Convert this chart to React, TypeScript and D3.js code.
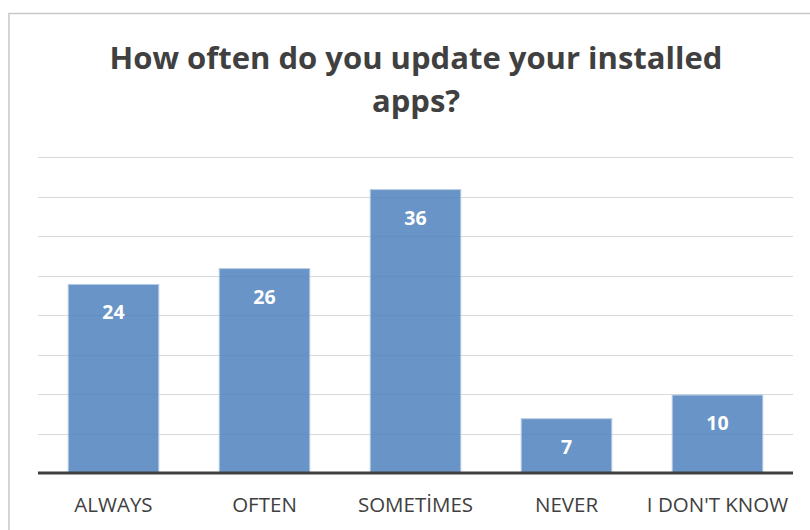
import React from "react";
import * as d3 from "d3";

const categories = ["ALWAYS", "OFTEN", "SOMETİMES", "NEVER", "I DON'T KNOW"];
const values = [24, 26, 36, 7, 10];
const yTicks = [0, 5, 10, 15, 20, 25, 30, 35, 40];
const titleLines = ["How often do you update your installed", "apps?"];

export default function App() {
  const W = 810, H = 530;
  const left = 38, right = 793, top = 157, bottom = 473;
  const x = d3.scaleBand<string>().domain(categories).range([left, right]).paddingInner(0.4).paddingOuter(0.2);
  const y = d3.scaleLinear().domain([0, 40]).range([bottom, top]);
  const font = "'Open Sans', 'Liberation Sans', sans-serif";
  return (
    <svg width={W} height={H} style={{ position: "absolute", left: 0, top: 0 }}>
      <rect x={0} y={0} width={W} height={H} fill="#fff" />
      <rect x={9} y={13.5} width={W + 20} height={H + 20} fill="#fff" stroke="#c8c8c8" strokeWidth={1.5} />
      {titleLines.map((t, i) => (
        <text key={i} x={416} y={69 + i * 43} textAnchor="middle" fontFamily={font} fontWeight={700} fontSize={31} fill="#404040">{t}</text>
      ))}
      {yTicks.filter(t => t > 0).map(t => (
        <line key={t} x1={left} x2={right} y1={Math.round(y(t)) + 0.5} y2={Math.round(y(t)) + 0.5} stroke="#d9d9d9" strokeWidth={1.2} />
      ))}
      {categories.map((c, i) => (
        <g key={c}>
          <rect x={x(c)!} y={y(values[i]) + 1} width={x.bandwidth()} height={bottom - y(values[i]) - 1} fill="#4f81bd" fillOpacity={0.85} stroke="#b9cde5" strokeWidth={1} />
          <text x={x(c)! + x.bandwidth() / 2} y={y(values[i]) + 36} textAnchor="middle" fontFamily={font} fontWeight={700} fontSize={19.5} fill="#fff">{values[i]}</text>
          <text x={x(c)! + x.bandwidth() / 2} y={512} textAnchor="middle" fontFamily={font} fontSize={20.5} fill="#404040">{c}</text>
        </g>
      ))}
      <line x1={left} x2={right} y1={bottom} y2={bottom} stroke="#404040" strokeWidth={3} />
    </svg>
  );
}
